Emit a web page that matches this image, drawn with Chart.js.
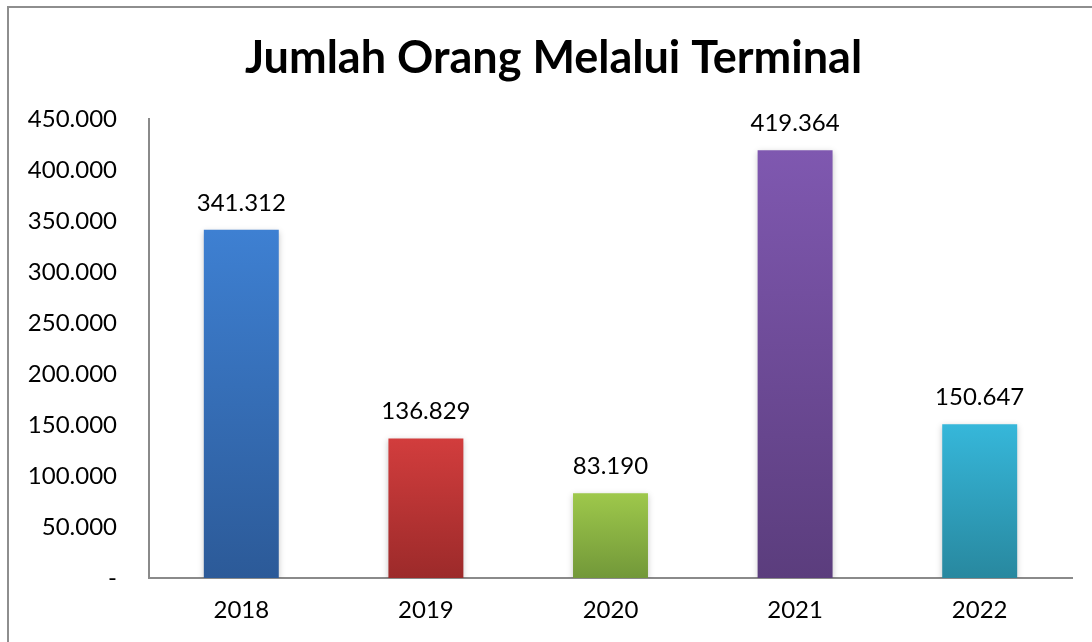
<!DOCTYPE html>
<html>
<head>
<meta charset="utf-8">
<script src="https://cdn.jsdelivr.net/npm/chart.js@4/dist/chart.umd.min.js"></script>
<style>
  html, body { margin: 0; padding: 0; background: #fff; overflow: hidden; }
  #wrap { position: relative; width: 1092px; height: 642px; }
  #frame { position: absolute; left: 7px; top: 6px; width: 1200px; height: 800px;
           border-left: 2px solid #8e8e8e; border-top: 2px solid #8e8e8e; box-sizing: border-box; pointer-events: none; }
  canvas { position: absolute; left: 0; top: 0; }
</style>
</head>
<body>
<div id="wrap">
  <canvas id="c" width="1092" height="642"></canvas>
  <div id="frame"></div>
</div>
<script>
// Passenger counts per year
const years = ['2018', '2019', '2020', '2021', '2022'];
const passengers = [341312, 136829, 83190, 419364, 150647];
const yTicks = [0, 50000, 100000, 150000, 200000, 250000, 300000, 350000, 400000, 450000];
// top / bottom shades of each bar's vertical gradient
const topColors = ['#3e80d2', '#d23d3d', '#9ec84b', '#7f58b0', '#36b7da'];
const bottomColors = ['#2c5a98', '#9c2a2a', '#729839', '#5b3d7d', '#28889f'];

const FONT = 'Lato, "Open Sans", sans-serif';

function fmt(v) {
  if (v === 0) return '-';
  return String(Math.round(v)).replace(/\B(?=(\d{3})+(?!\d))/g, '.');
}

function barFill(ctx) {
  const chart = ctx.chart;
  const i = ctx.dataIndex;
  const area = chart.chartArea;
  if (!area || !chart.scales.y) return topColors[i];
  const y = chart.scales.y;
  const yTop = y.getPixelForValue(passengers[i]);
  const yBot = y.getPixelForValue(0);
  const g = chart.ctx.createLinearGradient(0, yTop, 0, yBot);
  g.addColorStop(0, topColors[i]);
  g.addColorStop(1, bottomColors[i]);
  return g;
}

// soft shadow around bars
const barShadow = {
  id: 'barShadow',
  beforeDatasetsDraw(chart) {
    const c = chart.ctx;
    c.save();
    c.shadowColor = 'rgba(0,0,0,0.22)';
    c.shadowBlur = 6;
    c.shadowOffsetX = 0;
    c.shadowOffsetY = 2;
  },
  afterDatasetsDraw(chart) {
    chart.ctx.restore();
  }
};

// value labels above each bar
const valueLabels = {
  id: 'valueLabels',
  afterDatasetsDraw(chart) {
    const c = chart.ctx;
    const meta = chart.getDatasetMeta(0);
    c.save();
    c.font = '24px ' + FONT;
    c.fillStyle = '#000';
    c.textAlign = 'center';
    c.textBaseline = 'middle';
    meta.data.forEach((bar, i) => {
      c.fillText(fmt(passengers[i]), bar.x, bar.y - 27);
    });
    c.restore();
  }
};

new Chart(document.getElementById('c'), {
  type: 'bar',
  data: {
    labels: years,
    datasets: [{
      data: passengers,
      backgroundColor: barFill,
      borderWidth: 0,
      barPercentage: 0.406,
      categoryPercentage: 1
    }]
  },
  options: {
    responsive: false,
    animation: false,
    layout: { padding: { left: 15, right: 0, top: 0, bottom: 0 } },
    plugins: {
      legend: { display: false },
      tooltip: { enabled: false },
      title: {
        display: true,
        text: 'Jumlah Orang Melalui Terminal',
        color: '#000',
        font: { family: FONT, size: 45, weight: 'bold', lineHeight: 1.2 },
        padding: { top: 31, bottom: 34 }
      }
    },
    scales: {
      x: {
        grid: { display: false, drawTicks: false },
        border: { display: true, color: '#8a8a8a', width: 2 },
        ticks: { color: '#000', font: { family: FONT, size: 24 }, padding: 18 },
        afterFit(s) { s.height = 64; }
      },
      y: {
        min: 0,
        max: 450000,
        afterBuildTicks(s) { s.ticks = yTicks.map(v => ({ value: v })); },
        grid: { display: false, drawTicks: false },
        border: { display: true, color: '#8a8a8a', width: 2 },
        ticks: {
          color: '#000',
          font: { family: FONT, size: 24 },
          padding: 32,
          callback: (v) => fmt(v)
        },
        afterFit(s) { s.width = 134; }
      },
      // empty right-hand gutter so the plot ends short of the edge
      gutter: {
        type: 'linear',
        position: 'right',
        display: true,
        grid: { display: false, drawTicks: false },
        border: { display: false },
        ticks: { display: false },
        afterFit(s) { s.width = 20; }
      }
    }
  },
  plugins: [barShadow, valueLabels]
});
</script>
</body>
</html>
